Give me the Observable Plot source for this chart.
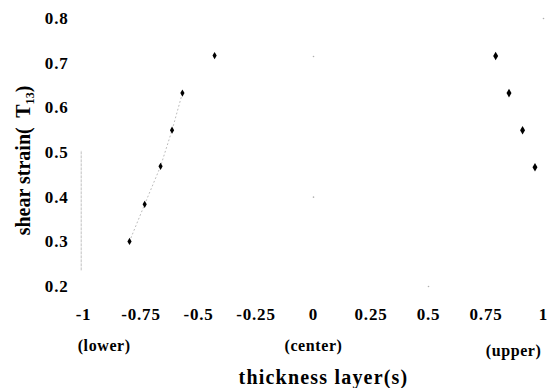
<!DOCTYPE html>
<html>
<head>
<meta charset="utf-8">
<script src="https://cdn.jsdelivr.net/npm/d3@7"></script>
<script src="https://cdn.jsdelivr.net/npm/@observablehq/plot@0.6"></script>
<style>
  html, body { margin: 0; padding: 0; background: #fff; }
  #chart svg { display: block; }
  g[aria-label="x-axis label"] text { letter-spacing: 1.2px; }
  g[aria-label="x-axis tick label"] text, g[aria-label="y-axis tick label"] text { letter-spacing: 0.8px; }
  g[aria-label="text"] text { letter-spacing: 0.6px; }
</style>
</head>
<body>
<div id="chart"></div>
<script>
// Lower-half series (first five joined by a faint dotted line)
const lowerX = [-0.80, -0.734, -0.665, -0.615, -0.570, -0.430];
const lowerY = [0.301, 0.384, 0.469, 0.550, 0.633, 0.717];
const lowerLinked = 5;
// Upper-half series
const upperX = [0.792, 0.850, 0.909, 0.963];
const upperY = [0.716, 0.633, 0.550, 0.467];
// Faint scan specks
const faintX = [0, 0, 0.5, 1];
const faintY = [0.715, 0.40, 0.2, 0.8];
// Faint vertical trace near the left edge
const traceX = [-1.01];
const traceY1 = [0.235];
const traceY2 = [0.504];

const xTicks = [-1, -0.75, -0.5, -0.25, 0, 0.25, 0.5, 0.75, 1];
const yTicks = [0.2, 0.3, 0.4, 0.5, 0.6, 0.7, 0.8];

const subLabelsA = ["(lower)", "(center)"];
const subLabelsAX = [-0.91, 0];
const subLabelsB = ["(upper)"];
const subLabelsBX = [0.87];

const lower = lowerX.map((x, i) => ({x, y: lowerY[i]}));
const upper = upperX.map((x, i) => ({x, y: upperY[i]}));
const faint = faintX.map((x, i) => ({x, y: faintY[i]}));
const trace = traceX.map((x, i) => ({x, y1: traceY1[i], y2: traceY2[i]}));
const subA = subLabelsA.map((t, i) => ({t, x: subLabelsAX[i]}));
const subB = subLabelsB.map((t, i) => ({t, x: subLabelsBX[i]}));

const chart = Plot.plot({
  width: 552,
  height: 388,
  marginLeft: 83,
  marginRight: 9,
  marginTop: 18,
  marginBottom: 102,
  style: {fontFamily: "'Liberation Serif', 'Times New Roman', serif", fontWeight: "bold", fontSize: "17px", color: "#000", background: "#fff"},
  x: {domain: [-1, 1]},
  y: {domain: [0.2, 0.8]},
  marks: [
    Plot.axisX({ticks: xTicks, tickFormat: d => String(d), tickSize: 0, tickPadding: 21, fontSize: 17, fontWeight: "bold",
      label: "thickness layer(s)", labelAnchor: "center", labelArrow: "none", labelOffset: 97}),
    Plot.axisY({ticks: yTicks, tickFormat: d3.format(".1f"), tickSize: 0, tickPadding: 15, fontSize: 17, fontWeight: "bold",
      label: "shear strain(  T\u2081\u2083)", labelAnchor: "center", labelArrow: "none", labelOffset: 68}),
    Plot.ruleX(trace, {x: "x", y1: "y1", y2: "y2", stroke: "#c0c0c0", strokeWidth: 1, strokeDasharray: "3,1"}),
    Plot.line(lower.slice(0, lowerLinked), {x: "x", y: "y", stroke: "#a8a8a8", strokeWidth: 0.8, strokeDasharray: "1,3"}),
    Plot.dot(faint, {x: "x", y: "y", r: 0.8, fill: "#b0b0b0"}),
    Plot.dot(lower, {x: "x", y: "y", symbol: "diamond", r: 2.2, fill: "#000"}),
    Plot.dot(upper, {x: "x", y: "y", symbol: "diamond", r: 2.6, fill: "#000"}),
    Plot.text(subA, {x: "x", text: "t", frameAnchor: "bottom", dy: 64, fontSize: 16, fontWeight: "bold", fill: "#000"}),
    Plot.text(subB, {x: "x", text: "t", frameAnchor: "bottom", dy: 69, fontSize: 16, fontWeight: "bold", fill: "#000"})
  ]
});
chart.querySelectorAll('g[aria-label="x-axis label"] text').forEach(t => { t.setAttribute("font-size", "20"); t.setAttribute("dx", "10"); });
chart.querySelectorAll('g[aria-label="y-axis label"] text').forEach(t => { t.setAttribute("font-size", "20"); t.setAttribute("dx", "-8"); });
document.getElementById("chart").appendChild(chart);
</script>
</body>
</html>
